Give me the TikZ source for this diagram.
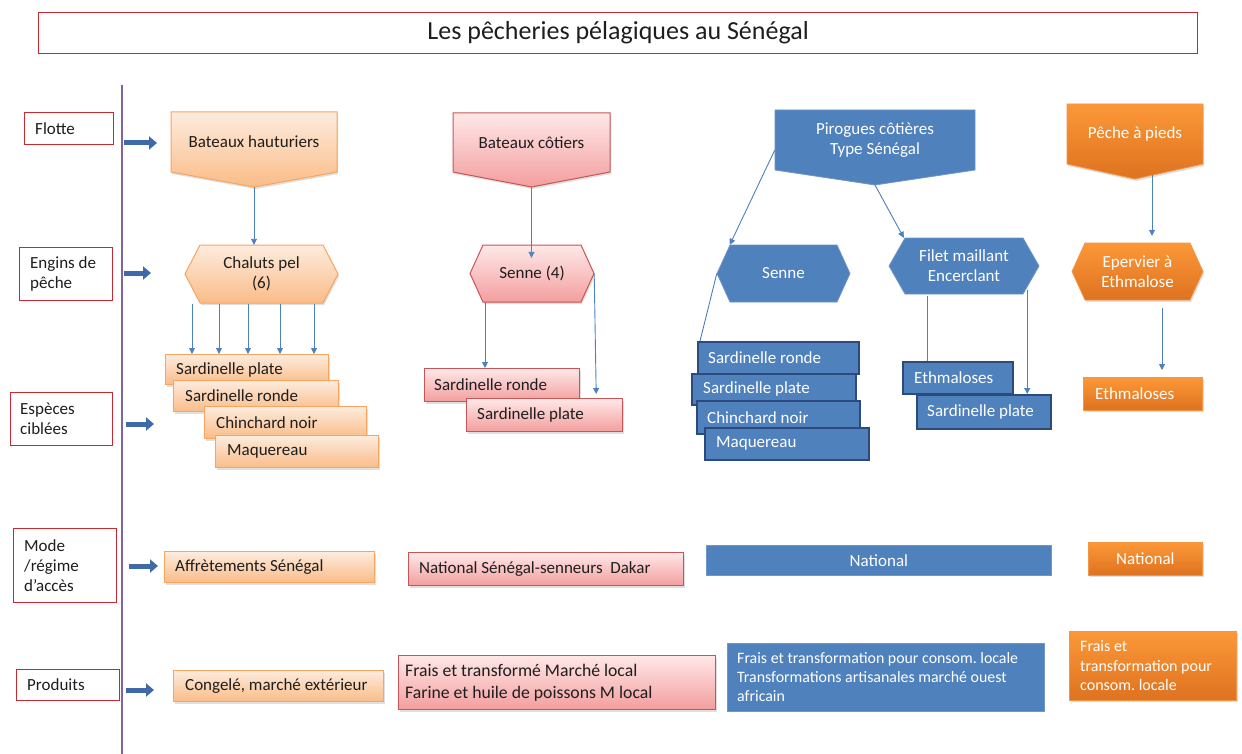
\documentclass[tikz,border=0pt]{standalone}
\usepackage{fontspec}
\setmainfont{Carlito}
\frenchspacing
\usetikzlibrary{arrows.meta,shadows,calc}
\definecolor{peachT}{RGB}{253,236,222}
\definecolor{peachB}{RGB}{250,188,136}
\definecolor{peachL}{RGB}{247,165,95}
\definecolor{pinkT}{RGB}{255,232,232}
\definecolor{pinkB}{RGB}{243,158,158}
\definecolor{pinkL}{RGB}{200,85,85}
\definecolor{oraT}{RGB}{252,152,56}
\definecolor{oraB}{RGB}{222,114,32}
\definecolor{oraL}{RGB}{244,150,70}
\definecolor{blueF}{RGB}{79,129,189}
\definecolor{blueL}{RGB}{110,150,200}
\definecolor{blueD}{RGB}{44,74,124}
\definecolor{redL}{RGB}{200,40,50}
\definecolor{purp}{RGB}{128,100,162}
\definecolor{connC}{RGB}{79,129,189}
\definecolor{thickC}{RGB}{62,106,168}
\definecolor{darkT}{RGB}{30,30,30}
% box with left-aligned text: [font opts] style, name, x1, y1, x2, y2, pad, text
\newcommand\lbox[9][]{%
  \pgfmathsetmacro\tbW{#6-#4}%
  \pgfmathsetmacro\tbH{#7-#5}%
  \node[#2,anchor=north west,minimum height=\tbH pt,minimum width=\tbW pt,inner sep=0pt] (#3) at (#4,#5) {};
  \node[#2txt,anchor=west,align=left,inner sep=0pt,#1] at ([xshift=#8pt]#3.west) {#9};}
\newcommand\cbox[7]{%
  \pgfmathsetmacro\tbW{#5-#3}%
  \pgfmathsetmacro\tbH{#6-#4}%
  \node[#1,#1txt,anchor=north west,minimum height=\tbH pt,minimum width=\tbW pt,inner sep=0pt,align=center] (#2) at (#3,#4) {#7};}
\newcommand\hexa[8]{%
  \pgfmathsetmacro\hxM{(#4+#6)/2}%
  \pgfmathsetmacro\hxW{#5-#3}%
  \pgfmathsetmacro\hxH{#6-#4}%
  \pgfmathsetmacro\hxC{(#3+#5)/2}%
  \draw[#1] (#3,\hxM) -- ({#3+#7},#4) -- ({#5-#7},#4) -- (#5,\hxM) -- ({#5-#7},#6) -- ({#3+#7},#6) -- cycle;
  \node[#1txt,minimum width=\hxW pt,minimum height=\hxH pt,inner sep=0pt,align=center] (#2) at (\hxC,\hxM) {#8};}
\newcommand\pent[8]{%
  \pgfmathsetmacro\ptC{(#3+#5)/2}%
  \pgfmathsetmacro\ptM{(#4+#6)/2}%
  \pgfmathsetmacro\ptW{#5-#3}%
  \pgfmathsetmacro\ptH{#6-#4}%
  \draw[#1] (#3,#4) -- (#5,#4) -- (#5,#6) -- (\ptC,#7) -- (#3,#6) -- cycle;
  \node[#1txt,minimum width=\ptW pt,minimum height=\ptH pt,inner sep=0pt,align=center] (#2) at (\ptC,\ptM) {#8};
  \coordinate (#2tip) at (\ptC,#7);}
\tikzset{
  shad/.style={drop shadow={opacity=0.25,shadow xshift=1.2pt,shadow yshift=-2pt}},
  peach/.style={top color=peachT,bottom color=peachB,draw=peachL,line width=1pt,shad},
  peachtxt/.style={text=darkT},
  pink/.style={top color=pinkT,bottom color=pinkB,draw=pinkL,line width=1pt,shad},
  pinktxt/.style={text=darkT},
  ora/.style={top color=oraT,bottom color=oraB,draw=oraL,line width=0.8pt,shad},
  oratxt/.style={text=white},
  blue/.style={fill=blueF,draw=blueL,line width=0.8pt},
  bluetxt/.style={text=white},
  bluek/.style={fill=blueF,draw=blueD,line width=1.6pt},
  bluektxt/.style={text=white},
  lab/.style={fill=white,draw=redL,line width=1.2pt},
  labtxt/.style={text=darkT},
  conn/.style={draw=connC,line width=0.9pt,-{Triangle[length=6pt,width=6pt]}},
  connl/.style={draw=connC,line width=0.9pt},
  fat/.style={draw=thickC,line width=5pt,-{Triangle[length=8pt,width=13pt]}},
}
\begin{document}
\begin{tikzpicture}[x=1pt,y=-1pt,font=\fontsize{17}{20}\selectfont]
\useasboundingbox (0,0) rectangle (1242,754);
\fill[white] (0,0) rectangle (1242,754);

% title
\node[lab,labtxt,anchor=north west,minimum width=1159pt,minimum height=41pt,inner sep=0pt,font=\fontsize{26}{30}\selectfont] (title) at (38,12) {Les pêcheries pélagiques au Sénégal};

% axis
\coordinate (axtop) at (122,85);
\coordinate (axbot) at (122,754);
\draw[purp,line width=2.5pt] (axtop) -- (axbot);

% left labels
\lbox{lab}{l1}{24}{112}{113}{144}{11}{Flotte}
\lbox{lab}{l2}{19}{247}{112}{300}{11}{Engins de\\pêche}
\lbox{lab}{l3}{10}{392}{112}{445}{10}{Espèces\\ciblées}
\lbox{lab}{l4}{13}{528}{116}{602}{11}{Mode\\/régime\\d’accès}
\lbox{lab}{l5}{16}{669}{119}{700}{11}{Produits}

% fat arrows
\coordinate (f1s) at (124,143); \coordinate (f1e) at (157,143);
\coordinate (f2s) at (124,273); \coordinate (f2e) at (151,273);
\coordinate (f3s) at (126,424); \coordinate (f3e) at (154,424);
\coordinate (f4s) at (129,566); \coordinate (f4e) at (158,566);
\coordinate (f5s) at (126,690); \coordinate (f5e) at (154,690);
\draw[fat] (f1s) -- (f1e);
\draw[fat] (f2s) -- (f2e);
\draw[fat] (f3s) -- (f3e);
\draw[fat] (f4s) -- (f4e);
\draw[fat] (f5s) -- (f5e);

% column 1 (peach)
\pent{peach}{bh}{171}{112}{337}{172}{187}{Bateaux hauturiers}
\hexa{peach}{cp}{185}{245}{338}{303}{15}{Chaluts pel\\(6)}
\lbox{peach}{sp1}{165}{354}{328}{384}{11}{Sardinelle plate}
\lbox{peach}{sp2}{173}{380}{338}{411}{12}{Sardinelle ronde}
\lbox{peach}{sp3}{204}{406}{366}{438}{12}{Chinchard noir}
\lbox{peach}{sp4}{215}{435}{378}{467}{12}{Maquereau}
\lbox{peach}{aff}{164}{551}{374}{582}{11}{Affrètements Sénégal}
\lbox{peach}{cong}{173}{670}{383}{701}{12}{Congelé, marché extérieur}

% column 2 (pink)
\pent{pink}{bc}{453}{113}{610}{172}{187}{Bateaux côtiers}
\hexa{pink}{sn}{470}{245}{594}{302}{13}{Senne (4)}
\lbox{pink}{pr}{424}{368}{579}{401}{10}{Sardinelle ronde}
\lbox{pink}{pl}{466}{398}{622}{431}{11}{Sardinelle plate}
\lbox{pink}{nat1}{408}{552}{683}{585}{11}{National Sénégal-senneurs\ \ Dakar}
\lbox[font=\fontsize{17.7}{22}\selectfont]{pink}{fr1}{398}{655}{715}{709}{7}{Frais et transformé Marché local\\Farine et huile de poissons M local}

% column 3 (blue)
\pent{blue}{pir}{775}{110}{975}{170}{185}{Pirogues côtières\\Type Sénégal}
\hexa{blue}{bs}{717}{245}{850}{302}{13}{Senne}
\hexa{blue}{fm}{889}{238}{1039}{294}{16}{Filet maillant\\Encerclant}
\lbox{bluek}{br}{697}{341}{858}{373}{11}{Sardinelle ronde}
\lbox{bluek}{bp}{691}{373}{855}{404}{12}{Sardinelle plate}
\lbox{bluek}{bch}{696}{400}{859}{433}{11}{Chinchard noir}
\lbox{bluek}{bm}{704}{427}{868}{459}{12}{Maquereau}
\lbox{bluek}{be}{902}{361}{1012}{393}{12}{Ethmaloses}
\lbox{bluek}{bsp}{916}{394}{1050}{428}{11}{Sardinelle plate}
\cbox{blue}{nat2}{706}{545}{1051}{575}{National}
\lbox[font=\fontsize{15.9}{19}\selectfont]{blue}{fr2}{727}{643}{1044}{711}{10}{Frais et transformation pour consom. locale\\Transformations artisanales marché ouest\\africain}

% column 4 (orange)
\pent{ora}{pap}{1067}{104}{1203}{164}{179}{Pêche à pieds}
\hexa{ora}{ep}{1072}{243}{1203}{300}{13}{Epervier à\\Ethmalose}
\lbox{ora}{oe}{1083}{377}{1202}{410}{12}{Ethmaloses}
\cbox{ora}{nat3}{1088}{542}{1202}{575}{National}
\lbox[font=\fontsize{16}{19.5}\selectfont]{ora}{fr3}{1069}{631}{1236}{700}{11}{Frais et\\transformation pour\\consom. locale}

% connectors column 1
\draw[conn] (bhtip) -- (bhtip |- cp.north);
\coordinate (c1) at (192,304);
\coordinate (c2) at (219,304);
\coordinate (c3) at (248,304);
\coordinate (c4) at (280,304);
\coordinate (c5) at (314,304);
\foreach \c in {c1,c2,c3,c4,c5} \draw[conn] (\c) -- (\c |- sp1.north);

% connectors column 2
\draw[conn] (bctip) -- ($(bctip |- sn.north)+(0,13)$);
\coordinate (s4a) at (485,302);
\draw[conn] (s4a) -- (s4a |- pr.north);
\draw[conn] (sn.east) -- ($(sn.east |- pl.north)+(2,-4)$);

% connectors column 3
\draw[conn] ([yshift=-10pt]pir.west) -- ($(bs.north west)+(13,0)$);
\draw[conn] (pirtip) -- ($(fm.north west)+(15,0)$);
\draw[connl] (bs.west) -- ($(br.north west)+(3,0)$);
\coordinate (fmL) at ($(fm.south west)+(39,2)$);
\draw[connl] (fmL) -- (fmL |- be.north);
\coordinate (fmR) at ($(fm.south east)+(-12,-4)$);
\draw[conn] (fmR) -- (fmR |- bsp.north);

% connectors column 4
\coordinate (papA) at ($(paptip)+(17,-4)$);
\draw[conn,shorten >=7pt] (papA) -- (papA |- ep.north);
\coordinate (epA) at (1162,308);
\draw[conn,shorten >=7pt] (epA) -- (epA |- oe.north);
\end{tikzpicture}
\end{document}
